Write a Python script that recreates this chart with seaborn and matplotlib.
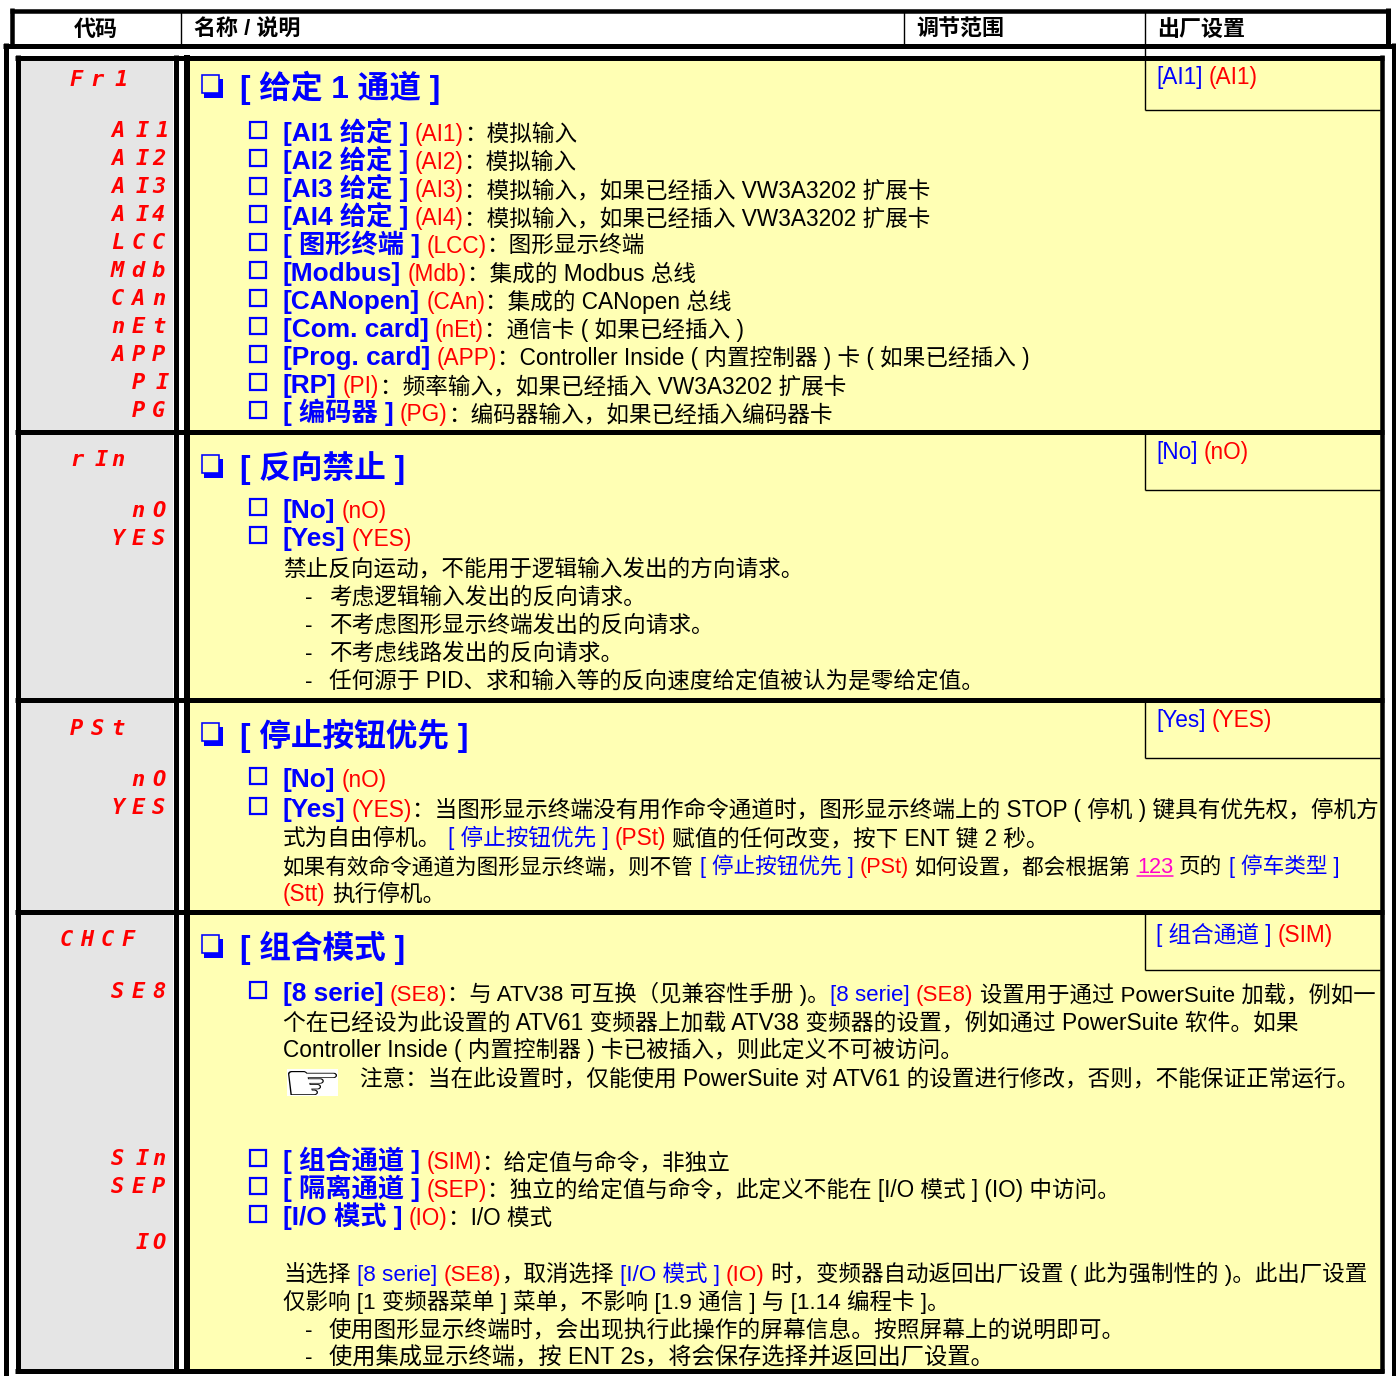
import matplotlib
matplotlib.use('Agg')
import matplotlib.pyplot as plt
from matplotlib.font_manager import FontProperties
from matplotlib.patches import PathPatch, Rectangle
from matplotlib.textpath import TextPath
from matplotlib.transforms import Affine2D
import pandas as pd
import seaborn as sns

# Text of the table, one list per row. B bold blue, b blue, r red, k black, m magenta link
headers = ['代码', '名称 / 说明', '调节范围', '出厂设置']
row_titles = ['[ 给定 1 通道 ]', '[ 反向禁止 ]', '[ 停止按钮优先 ]', '[ 组合模式 ]']

row1_codes = ['Fr1', 'AI1', 'AI2', 'AI3', 'AI4', 'LCC', 'Mdb', 'CAn', 'nEt', 'APP', 'PI', 'PG']
row2_codes = ['rIn', 'nO', 'YES']
row3_codes = ['PSt', 'nO', 'YES']
row4_codes = ['CHCF', 'SE8', 'SIn', 'SEP', 'IO']

row_defaults = [
    [('b', '[AI1]'), ('r', ' (AI1)')],
    [('b', '[No]'), ('r', ' (nO)')],
    [('b', '[Yes]'), ('r', ' (YES)')],
    [('b', '[ 组合通道 ]'), ('r', ' (SIM)')],
]

row1_lines = [
    [('B', '[AI1 给定 ]'), ('r', ' (AI1)'), ('k', '：模拟输入')],
    [('B', '[AI2 给定 ]'), ('r', ' (AI2)'), ('k', '：模拟输入')],
    [('B', '[AI3 给定 ]'), ('r', ' (AI3)'), ('k', '：模拟输入，如果已经插入 VW3A3202 扩展卡')],
    [('B', '[AI4 给定 ]'), ('r', ' (AI4)'), ('k', '：模拟输入，如果已经插入 VW3A3202 扩展卡')],
    [('B', '[ 图形终端 ]'), ('r', ' (LCC)'), ('k', '：图形显示终端')],
    [('B', '[Modbus]'), ('r', ' (Mdb)'), ('k', '：集成的 Modbus 总线')],
    [('B', '[CANopen]'), ('r', ' (CAn)'), ('k', '：集成的 CANopen 总线')],
    [('B', '[Com. card]'), ('r', ' (nEt)'), ('k', '：通信卡 ( 如果已经插入 )')],
    [('B', '[Prog. card]'), ('r', ' (APP)'), ('k', '：Controller Inside ( 内置控制器 ) 卡 ( 如果已经插入 )')],
    [('B', '[RP]'), ('r', ' (PI)'), ('k', '：频率输入，如果已经插入 VW3A3202 扩展卡')],
    [('B', '[ 编码器 ]'), ('r', ' (PG)'), ('k', '：编码器输入，如果已经插入编码器卡')],
]

row2_lines = [
    [('B', '[No]'), ('r', ' (nO)')],
    [('B', '[Yes]'), ('r', ' (YES)')],
]
row2_body = ['禁止反向运动，不能用于逻辑输入发出的方向请求。']
row2_bullets = [
    '考虑逻辑输入发出的反向请求。',
    '不考虑图形显示终端发出的反向请求。',
    '不考虑线路发出的反向请求。',
    '任何源于 PID、求和输入等的反向速度给定值被认为是零给定值。',
]

row3_lines = [
    [('B', '[No]'), ('r', ' (nO)')],
    [('B', '[Yes]'), ('r', ' (YES)'),
     ('k', '：当图形显示终端没有用作命令通道时，图形显示终端上的 STOP ( 停机 ) 键具有优先权，停机方')],
]
row3_body = [
    [('k', '式为自由停机。 '), ('b', '[ 停止按钮优先 ]'), ('r', ' (PSt)'), ('k', ' 赋值的任何改变，按下 ENT 键 2 秒。')],
    [('k', '如果有效命令通道为图形显示终端，则不管 '), ('b', '[ 停止按钮优先 ]'), ('r', ' (PSt)'),
     ('k', ' 如何设置，都会根据第 '), ('m', '123'), ('k', ' 页的 '), ('b', '[ 停车类型 ]')],
    [('r', '(Stt)'), ('k', ' 执行停机。')],
]

row4_top = [
    [('B', '[8 serie]'), ('r', ' (SE8)'), ('k', '：与 ATV38 可互换（见兼容性手册 )。'), ('b', '[8 serie]'),
     ('r', ' (SE8)'), ('k', ' 设置用于通过 PowerSuite 加载，例如一')],
]
row4_cont = [
    [('k', '个在已经设为此设置的 ATV61 变频器上加载 ATV38 变频器的设置，例如通过 PowerSuite 软件。如果')],
    [('k', 'Controller Inside ( 内置控制器 ) 卡已被插入，则此定义不可被访问。')],
]
row4_note = '注意：当在此设置时，仅能使用 PowerSuite 对 ATV61 的设置进行修改，否则，不能保证正常运行。'
row4_lines = [
    [('B', '[ 组合通道 ]'), ('r', ' (SIM)'), ('k', '：给定值与命令，非独立')],
    [('B', '[ 隔离通道 ]'), ('r', ' (SEP)'), ('k', '：独立的给定值与命令，此定义不能在 [I/O 模式 ] (IO) 中访问。')],
    [('B', '[I/O 模式 ]'), ('r', ' (IO)'), ('k', '：I/O 模式')],
]
row4_body = [
    [('k', '当选择 '), ('b', '[8 serie]'), ('r', ' (SE8)'), ('k', '，取消选择 '), ('b', '[I/O 模式 ]'), ('r', ' (IO)'),
     ('k', ' 时，变频器自动返回出厂设置 ( 此为强制性的 )。此出厂设置')],
    [('k', '仅影响 [1 变频器菜单 ] 菜单，不影响 [1.9 通信 ] 与 [1.14 编程卡 ]。')],
]
row4_bullets = [
    '使用图形显示终端时，会出现执行此操作的屏幕信息。按照屏幕上的说明即可。',
    '使用集成显示终端，按 ENT 2s，将会保存选择并返回出厂设置。',
]

sns.set_theme(style='white')
plt.rcParams['font.family'] = ['Liberation Sans', 'Noto Sans CJK SC', 'DejaVu Sans']

W, H = 1396, 1376
BLUE, RED, MAGENTA = '#0000ff', '#ff0000', '#ff00cc'
YELLOW, GREY = '#ffffb4', '#e5e5e5'
BODY_PX, BOLD_PX, TITLE_PX = 22.6, 26.3, 31.7

fig = plt.figure(figsize=(W / 100, H / 100), dpi=100)
ax = fig.add_axes([0, 0, 1, 1])
renderer = fig.canvas.get_renderer()


def pt(px):
    # sizes in pixels
    return px * 72 / 100


def rule(x0, y0, x1, y1, px):
    df = pd.DataFrame({'x': [x0, x1], 'y': [y0, y1]})
    sns.lineplot(data=df, x='x', y='y', ax=ax, color='black', linewidth=pt(px), sort=False,
                 estimator=None, solid_capstyle='butt', zorder=3)


widths = {}


def text_width(s, px, weight):
    key = (s, px, weight)
    if key not in widths:
        t = ax.text(0, 0, 'x' + s + 'x', fontsize=pt(px), fontweight=weight)
        a = t.get_window_extent(renderer).width
        t.set_text('xx')
        widths[key] = a - t.get_window_extent(renderer).width
        t.remove()
    return widths[key]


def draw_line(x, base, segs, body_px=BODY_PX):
    for kind, s in segs:
        px = BOLD_PX if kind == 'B' else body_px
        weight = 'bold' if kind == 'B' else 'normal'
        color = {'B': BLUE, 'b': BLUE, 'r': RED, 'k': 'black', 'm': MAGENTA}[kind]
        lead = len(s) - len(s.lstrip())
        if lead:
            x += text_width(' ' * lead, px, weight)
            s = s.lstrip()
        ax.text(x, base, s.rstrip(), fontsize=pt(px), fontweight=weight, color=color, va='baseline', zorder=4)
        w = text_width(s, px, weight)
        if kind == 'm':
            ax.plot([x, x + w], [base + 3, base + 3], color=MAGENTA, lw=pt(1.5), zorder=4)
        x += w


def check_line(base, segs, body_px=BODY_PX):
    ax.add_patch(Rectangle((250, base - 19), 16, 16, fill=False, ec=BLUE, lw=pt(2.2), zorder=4))
    draw_line(283, base, segs, body_px)


def bullet_line(base, s, body_px=BODY_PX):
    draw_line(305, base, [('k', '-')])
    draw_line(329, base, [('k', s)], body_px)


def title_line(base, s):
    # hollow square with a drop shadow
    ax.add_patch(Rectangle((204, base - 19), 19, 19, fc=BLUE, ec='none', zorder=4))
    ax.add_patch(Rectangle((201.5, base - 23), 17, 18, fc=YELLOW, ec=BLUE, lw=pt(1.6), zorder=4))
    ax.text(240, base, s, fontsize=pt(TITLE_PX), fontweight='bold', color=BLUE, va='baseline', zorder=4)


def code_text(left, base, code):
    # each character sits in a fixed slot, thin strokes sit right like on the drive display
    for i, c in enumerate(code):
        shift = 4 if c in 'I1' else 0
        ax.text(left + i * 20.5 + shift, base, c, family='DejaVu Sans Mono', fontsize=pt(22), fontweight='bold',
                style='oblique', color=RED, va='baseline', zorder=4)


def hand_icon(x0, y0, x1, y1):
    # pictogram, stretched to the box it has in the table
    path = TextPath((0, 0), '☞', size=40, prop=FontProperties(family='DejaVu Sans'))
    box = path.get_extents()
    tr = (Affine2D().translate(-box.x0, -box.y0).scale((x1 - x0) / box.width, -(y1 - y0) / box.height)
          .translate(x0, y1))
    ax.add_patch(PathPatch(path, fc='black', ec='none', transform=tr + ax.transData, zorder=4))


# fills
ax.add_patch(Rectangle((20, 58), 153, 1312, fc=GREY, ec='none', zorder=1))
ax.add_patch(Rectangle((188, 58), 1194, 1312, fc=YELLOW, ec='none', zorder=1))

# header box and outer frames
rule(10, 10.5, 1390, 10.5, 4.5)
rule(12, 8, 12, 45, 4.5)
rule(1387.5, 8, 1387.5, 45, 5)
rule(3, 45.5, 1396, 45.5, 5)
rule(5.5, 43, 5.5, H, 5)
rule(1393.5, 43, 1393.5, H, 5)
rule(180.8, 12, 180.8, 44, 1.4)
rule(903.8, 12, 903.8, 44, 1.4)

# table frame and row separators
rule(15, 57.5, 1384, 57.5, 5)
rule(15, 431.5, 1384, 431.5, 5)
rule(15, 699.5, 1384, 699.5, 5)
rule(15, 911.5, 1384, 911.5, 5)
rule(15, 1370.5, 1384, 1370.5, 5)
rule(17.5, 55, 17.5, 1373, 5)
rule(175.5, 55, 175.5, 1373, 5)
rule(187, 55, 187, 1373, 6)
rule(1382, 55, 1382, 1373, 4.5)

# factory setting boxes
rule(1145, 12, 1145, 110, 1.4)
rule(1145, 110, 1380, 110, 1.4)
rule(1145, 434, 1145, 490, 1.4)
rule(1145, 490, 1380, 490, 1.4)
rule(1145, 702, 1145, 758, 1.4)
rule(1145, 758, 1380, 758, 1.4)
rule(1145, 914, 1145, 970, 1.4)
rule(1145, 970, 1380, 970, 1.4)

# column headers
ax.text(96, 36, headers[0], fontsize=pt(22), fontweight='bold', color='black', ha='center', va='baseline')
for x, s in zip([194, 916, 1157], headers[1:]):
    ax.text(x, 36, s, fontsize=pt(22), fontweight='bold', color='black', va='baseline')

# defaults on the right of each row
for base, segs in zip([84, 459, 727, 942], row_defaults):
    draw_line(1156, base, segs)

# titles
for base, s in zip([98, 478, 746, 958], row_titles):
    title_line(base, s)

# row 1
code_text(70, 86, row1_codes[0])
for i, code in enumerate(row1_codes[1:]):
    code_text(111 + (3 - len(code)) * 20.5, 137 + i * 28, code)
for i, segs in enumerate(row1_lines):
    check_line(141 + i * 28, segs)

# row 2
code_text(70, 466, row2_codes[0])
code_text(131.5, 517, row2_codes[1])
code_text(111, 545, row2_codes[2])
check_line(518, row2_lines[0])
check_line(546, row2_lines[1])
draw_line(283, 576, [('k', row2_body[0])])
for i, s in enumerate(row2_bullets):
    bullet_line(604 + i * 28, s)

# row 3
code_text(70, 735, row3_codes[0])
code_text(131.5, 786, row3_codes[1])
code_text(111, 814, row3_codes[2])
check_line(787, row3_lines[0])
check_line(817, row3_lines[1])
draw_line(283, 845, row3_body[0])
draw_line(283, 873, row3_body[1], 21.6)
draw_line(283, 901, row3_body[2])

# row 4
code_text(60, 946, row4_codes[0])
code_text(111, 998, row4_codes[1])
code_text(111, 1165, row4_codes[2])
code_text(111, 1193, row4_codes[3])
code_text(131.5, 1249, row4_codes[4])
check_line(1001, row4_top[0], 22.35)
draw_line(283, 1029, row4_cont[0], 22.7)
draw_line(283, 1057, row4_cont[1])

# pointing hand on its white patch
ax.add_patch(Rectangle((287, 1069), 51, 27, fc='white', ec='none', zorder=2))
hand_icon(288, 1071, 337, 1095)
draw_line(360, 1085, [('k', row4_note)], 22.65)

for i, segs in enumerate(row4_lines):
    check_line(1169 + i * 28, segs)
draw_line(283, 1281, row4_body[0], 22.5)
draw_line(283, 1309, row4_body[1], 22.5)
bullet_line(1337, row4_bullets[0], 22.7)
bullet_line(1364, row4_bullets[1], 23.3)

ax.set_xlim(0, W)
ax.set_ylim(H, 0)
ax.set_axis_off()
plt.savefig('out.png', dpi=100)
